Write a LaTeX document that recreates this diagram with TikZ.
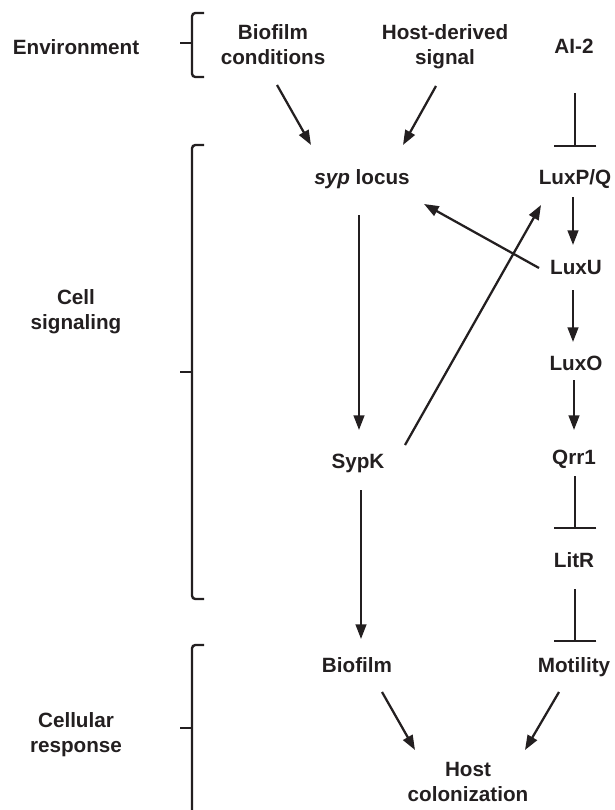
\documentclass[tikz,border=0pt]{standalone}
\usepackage{fontspec}
\setmainfont{Liberation Sans}
\usepackage{tikz}
\usetikzlibrary{calc,arrows.meta}

\definecolor{ink}{RGB}{35,31,32}

\tikzset{
  lbl/.style={font=\fontsize{15.5}{18.75}\selectfont\bfseries, text=ink, inner sep=0pt, align=center},
  act/.style={draw=ink, line width=1.7pt, -{Triangle[length=11pt,width=8pt]}},
  inh/.style={draw=ink, line width=1.7pt, -{Bar[width=32pt]}},
  brace/.style={draw=ink, line width=1.8pt, rounded corners=2.5pt},
}

\begin{document}
\begin{tikzpicture}[x=0.75pt,y=-0.75pt]
    \useasboundingbox (0,0) rectangle (614,810);

    % level labels
    \node[lbl,anchor=base] (env) at (76,54.5) {Environment};
    \node[lbl,anchor=north] (cellsig) at (76,289) {Cell\\signaling};
    \node[lbl,anchor=north] (cellresp) at (76,712) {Cellular\\response};

    % brackets
    \draw[brace] (204,13) -- (192,13) -- (192,77) -- (204,77);
    \draw[brace] (180,43) -- (192,43);
    \draw[brace] (204,145) -- (192,145) -- (192,599) -- (204,599);
    \draw[brace] (180,372) -- (192,372);
    \draw[brace] (204,645) -- (192,645) -- (192,815);
    \draw[brace] (180,728) -- (192,728);

    % signals
    \node[lbl,anchor=north] (biocond) at (273,24.5) {Biofilm\\conditions};
    \node[lbl,anchor=north] (hostsig) at (445,24.5) {Host-derived\\signal};
    \node[lbl,anchor=base] (ai2) at (574,53.5) {AI-2};

    % syp branch
    \node[lbl,anchor=base] (syp) at (362,184.5) {\textit{syp} locus};
    \node[lbl,anchor=base] (sypk) at (358,468) {SypK};
    \node[lbl,anchor=base] (biofilm) at (357,672) {Biofilm};

    % quorum sensing branch
    \node[lbl,anchor=base] (luxpq) at (575,184.5) {LuxP/Q};
    \node[lbl,anchor=base] (luxu) at (576,274.5) {LuxU};
    \node[lbl,anchor=base] (luxo) at (576,370.5) {LuxO};
    \node[lbl,anchor=base] (qrr1) at (574,464) {Qrr1};
    \node[lbl,anchor=base] (litr) at (574,567.5) {LitR};
    \node[lbl,anchor=base] (motility) at (574,672) {Motility};

    \node[lbl,anchor=north] (host) at (468,762) {Host\\colonization};

    % connectors
    \draw[act] ($(biocond.north)+(4,60.5)$) -- ($(syp.base)+(-51,-39.5)$);
    \draw[act] ($(hostsig.north)+(-9,61.5)$) -- ($(syp.base)+(41,-39.5)$);
    \draw[inh] ($(ai2.base)+(1,39.5)$) -- ($(luxpq.base)+(0,-37.5)$);
    \draw[act] ($(luxpq.base)+(-2,12.5)$) -- ($(luxu.base)+(-3,-29.5)$);
    \draw[act] ($(luxu.base)+(-37,-6.5)$) -- ($(syp.base)+(62,19.5)$);
    \draw[act] ($(luxu.base)+(-3,15.5)$) -- ($(luxo.base)+(-3,-28.5)$);
    \draw[act] ($(luxo.base)+(-2,9.5)$) -- ($(qrr1.base)+(0,-34)$);
    \draw[act] ($(syp.base)+(-3,30.5)$) -- ($(sypk.base)+(1,-38)$);
    \draw[act] ($(sypk.base)+(47,-23)$) -- ($(luxpq.base)+(-34,20.5)$);
    \draw[inh] ($(qrr1.base)+(1,12)$) -- ($(litr.base)+(1,-38.5)$);
    \draw[inh] ($(litr.base)+(1,21.5)$) -- ($(motility.base)+(1,-30)$);
    \draw[act] ($(sypk.base)+(3,22)$) -- ($(biofilm.base)+(4,-33)$);
    \draw[act] ($(biofilm.base)+(25,20)$) -- ($(host.north)+(-53,-12)$);
    \draw[act] ($(motility.base)+(-15,20)$) -- ($(host.north)+(57,-12)$);
\end{tikzpicture}
\end{document}
